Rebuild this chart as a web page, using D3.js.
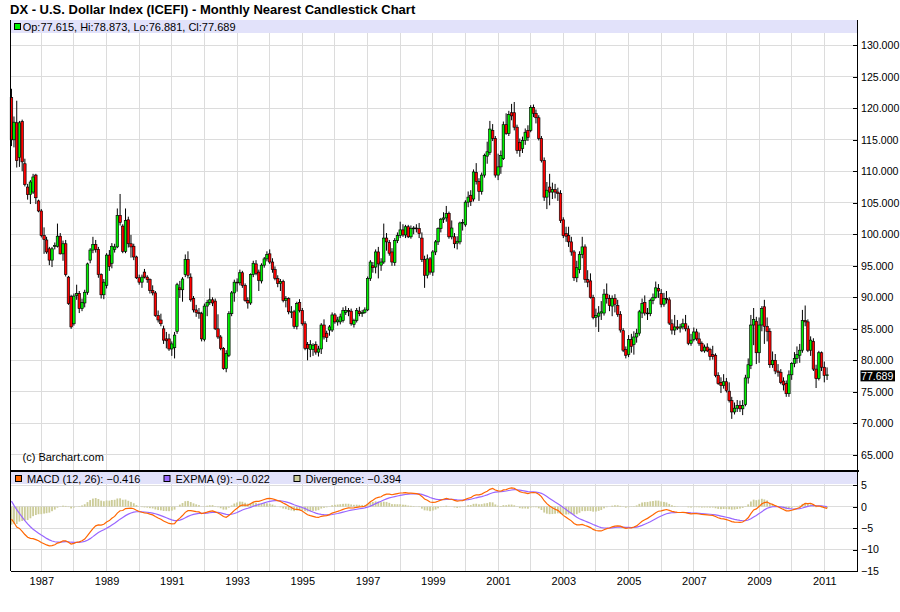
<!DOCTYPE html>
<html>
<head>
<meta charset="utf-8">
<script src="https://cdn.jsdelivr.net/npm/d3@7"></script>
<style>
  body { margin: 0; background: #fff; }
  svg text { font-family: "Liberation Sans", Arial, sans-serif; }
</style>
</head>
<body>
<svg id="chart" width="900" height="612"></svg>
<script>
// monthly bars, first one is Feb 1986, last one Feb 2011
var firstYear = 1986, firstMonth = 1;

var opens = [
  121.7,115.0,117.7,112.2,117.9,111.2,107.5,106.3,106.7,109.4,105.3,            // 1986
  103.7,99.8,99.1,97.7,95.9,98.1,98.1,99.7,96.9,98.5,93.2,90.1,                 // 1987
  85.8,90.3,90.6,88.2,89.1,90.8,95.9,97.5,98.4,97.6,93.6,90.4,                  // 1988
  91.9,96.7,95.4,97.6,98.0,103.0,101.3,97.3,102.3,98.5,98.1,96.4,               // 1989
  93.1,92.4,94.0,93.2,92.8,91.1,90.7,87.1,86.4,85.0,83.4,83.4,                  // 1990
  81.8,82.0,84.6,91.5,91.2,93.6,96.0,93.2,89.8,88.0,87.6,87.4,                  // 1991
  83.3,88.6,89.2,89.6,89.4,85.0,83.7,81.9,78.7,80.8,87.4,90.7,                  // 1992
  92.4,92.3,93.9,91.9,89.5,89.1,93.6,95.3,94.0,92.6,95.1,96.1,                  // 1993
  96.9,95.6,94.4,93.0,92.2,92.5,89.5,89.8,87.7,87.7,85.4,89.2,                  // 1994
  87.9,85.8,82.5,81.7,81.7,82.5,81.3,81.8,85.6,84.3,84.8,84.8,                  // 1995
  87.2,86.1,86.1,86.3,87.6,87.9,87.8,85.7,86.3,87.8,87.4,87.6,                  // 1996
  88.0,93.0,95.0,94.8,97.2,95.1,95.6,99.4,98.7,97.2,95.5,99.0,                  // 1997
  99.8,100.7,99.9,101.2,99.6,100.9,101.0,100.9,99.4,96.0,93.5,96.1,             // 1998
  94.0,97.2,98.8,100.9,102.4,102.6,103.3,99.6,99.6,98.6,98.8,101.8,             // 1999
  101.5,105.1,106.2,105.6,109.8,108.4,106.8,109.4,112.4,113.0,116.5,115.2,      // 2000
  109.4,110.7,112.0,117.4,116.0,119.3,119.3,117.0,114.6,113.6,114.9,116.5,      // 2001
  116.5,120.1,119.2,118.5,115.2,111.7,105.9,107.5,106.7,107.1,106.7,106.5,      // 2002
  102.3,100.1,99.8,98.8,97.2,93.1,94.4,96.8,98.0,92.8,92.6,90.0,                // 2003
  86.8,87.0,87.5,87.5,90.5,89.8,88.6,89.8,88.7,87.3,84.7,81.7,                  // 2004
  80.9,83.3,82.5,83.7,84.3,87.5,89.2,87.5,87.4,89.5,90.0,91.4,                  // 2005
  90.6,88.9,89.8,89.6,85.8,84.8,85.3,85.1,85.3,85.8,85.0,82.7,                  // 2006
  83.3,84.5,83.4,82.7,81.5,82.1,81.7,80.9,80.8,77.6,76.5,76.0,                  // 2007
  76.6,75.1,73.6,71.8,72.4,72.8,72.3,73.0,77.2,79.2,85.6,86.2,                  // 2008
  81.2,85.6,88.5,85.4,84.6,79.3,80.0,78.3,78.1,76.7,76.3,74.7,                  // 2009
  77.7,79.5,80.3,80.8,81.6,86.3,86.1,81.6,83.0,78.6,77.1,81.2,                  // 2010
  78.9,77.615                                                                   // 2011
];

var highs = [
  123.1,118.7,121.2,118.0,118.2,112.0,108.0,108.6,109.6,109.6,105.5,
  104.0,101.1,99.6,98.0,98.0,98.7,101.7,100.2,99.0,99.1,93.4,90.4,
  90.6,92.0,91.0,89.8,91.2,95.5,97.8,99.6,99.1,98.0,93.8,92.9,
  97.0,97.5,98.6,98.5,104.1,106.4,101.6,104.1,102.8,99.9,98.5,96.6,
  93.6,93.6,94.5,93.5,93.0,91.9,91.0,87.9,87.4,85.5,84.5,84.2,
  83.0,84.5,92.3,92.6,93.2,96.8,97.3,93.8,90.2,88.8,88.3,87.7,
  89.0,89.6,91.4,90.0,89.8,87.3,84.0,82.1,81.6,87.8,91.0,92.8,
  93.0,94.4,94.2,92.2,90.0,93.8,95.8,95.9,94.4,95.4,96.4,97.3,
  97.6,96.2,94.9,93.5,92.9,92.8,90.2,90.0,88.6,88.0,89.3,89.7,
  88.3,86.2,82.9,83.2,82.7,83.0,82.3,85.9,86.5,84.7,85.6,87.6,
  87.5,86.9,87.4,88.4,88.6,88.3,88.2,86.6,88.3,88.5,88.0,88.4,
  93.3,95.9,95.6,97.6,98.0,96.2,101.7,100.2,99.1,97.8,99.4,100.3,
  102.0,101.6,101.5,101.5,101.4,101.3,101.6,101.8,100.3,96.6,96.8,96.4,
  97.5,99.1,101.1,102.6,103.5,104.5,103.6,102.2,100.2,99.7,102.0,102.4,
  105.4,106.8,107.0,110.3,111.3,108.9,109.8,112.8,114.7,118.0,117.5,115.6,
  112.8,113.3,117.9,119.2,119.6,120.7,121.0,117.4,115.2,115.5,116.8,117.3,
  120.5,120.6,119.8,118.9,115.6,112.2,108.3,109.6,108.2,108.0,107.4,107.0,
  102.7,101.2,101.2,99.6,97.5,95.8,97.3,99.6,98.4,94.3,93.8,90.4,
  88.2,88.6,89.4,91.3,92.2,90.4,90.3,90.5,89.6,87.8,85.1,82.2,
  84.0,84.2,84.6,85.0,88.0,89.8,90.3,88.3,89.8,90.6,92.5,92.1,
  91.3,90.7,91.0,90.0,86.5,87.2,86.4,85.8,86.6,87.2,85.5,84.2,
  85.2,85.0,84.4,83.0,82.5,82.7,82.0,82.3,81.1,78.1,77.3,77.8,
  77.2,76.5,74.2,73.3,73.7,73.6,73.7,77.7,80.3,87.2,88.3,86.9,
  86.8,88.6,89.6,86.8,85.1,81.4,81.0,79.4,78.6,77.3,76.8,78.4,
  79.7,81.3,82.2,82.6,88.0,88.7,86.5,83.8,83.5,79.3,81.5,81.4,
  79.8,78.873
];

var lows = [
  114.0,113.8,110.6,110.7,110.0,107.6,105.5,104.8,106.4,104.8,103.5,
  99.5,96.9,96.9,95.1,94.8,97.6,97.9,96.8,95.8,93.3,88.8,85.0,
  85.5,89.6,87.5,87.8,88.4,90.4,95.4,97.0,97.1,93.1,89.8,89.7,
  91.4,94.2,94.6,97.1,97.8,101.4,97.0,97.0,97.9,96.3,95.9,92.9,
  92.0,91.5,93.0,92.3,90.6,90.3,86.9,86.0,85.4,82.6,81.9,81.5,
  80.7,80.3,84.2,89.9,89.3,93.2,93.0,89.3,87.6,86.9,86.6,83.0,
  83.0,87.0,88.8,88.6,84.8,83.4,81.6,78.5,78.1,80.5,87.0,89.3,
  90.9,91.9,91.5,89.3,88.2,88.8,93.2,93.5,91.0,92.2,94.7,95.7,
  95.3,93.9,92.7,91.6,91.0,89.2,88.4,87.3,86.7,85.0,84.9,87.6,
  85.5,81.6,80.0,80.5,80.7,80.9,80.6,81.0,83.3,82.9,83.9,84.5,
  85.8,85.5,85.7,86.0,87.2,87.0,85.5,85.2,86.0,87.0,86.9,87.4,
  87.8,92.6,93.9,93.8,93.0,94.2,95.3,97.4,96.6,95.0,95.0,98.6,
  99.4,99.6,99.4,99.4,99.3,100.0,100.3,99.4,95.6,91.5,93.0,93.6,
  93.4,96.7,98.3,100.3,101.8,102.0,99.3,99.2,97.8,97.6,98.4,100.6,
  101.2,104.3,104.5,105.2,107.9,105.3,106.3,109.0,111.2,112.6,114.8,109.0,
  108.6,109.6,111.8,115.8,115.6,118.1,116.5,112.8,112.3,112.9,114.2,114.8,
  116.2,118.6,117.6,114.9,111.4,105.3,104.0,104.6,105.6,105.7,105.3,101.8,
  99.4,98.8,98.0,96.6,92.6,92.4,93.8,96.2,92.3,91.6,89.8,86.5,
  85.3,84.5,86.4,87.1,89.0,87.8,87.0,87.6,86.9,84.4,81.3,80.3,
  80.5,81.2,80.9,82.8,83.9,86.7,87.1,86.4,87.0,88.9,89.8,89.9,
  88.4,88.5,89.0,85.6,84.1,84.0,84.8,84.4,84.9,84.6,82.4,82.3,
  83.0,83.1,82.3,81.3,81.2,81.3,80.0,80.1,77.3,76.1,74.8,75.5,
  74.9,73.3,70.7,71.4,71.8,71.8,71.3,72.7,76.3,78.6,82.4,79.4,
  79.6,84.6,82.6,83.0,78.8,78.8,77.8,77.4,76.2,75.2,74.2,74.2,
  76.9,78.9,79.5,79.6,81.2,85.4,81.3,80.7,78.3,75.6,76.8,78.3,
  76.5,76.881
];

var closes = [
  115.0,117.8,111.7,117.7,111.5,107.9,106.3,108.3,109.1,105.8,103.7,
  99.8,99.2,97.2,95.9,97.7,98.2,99.7,96.9,98.5,93.6,89.0,85.3,
  90.2,90.6,88.2,89.2,90.8,95.3,97.5,98.4,97.6,93.6,90.4,92.4,
  96.7,94.9,98.1,98.0,103.0,101.9,97.3,102.2,98.5,98.0,96.4,93.1,
  92.4,93.2,93.2,92.8,91.1,90.7,87.1,86.4,85.8,83.2,83.1,81.8,
  82.6,84.0,92.0,91.2,92.9,96.0,93.5,89.6,88.0,87.6,87.4,83.4,
  88.6,89.2,89.6,89.1,85.0,83.7,81.9,78.7,81.1,87.4,90.7,92.4,
  92.3,93.9,91.9,89.5,89.1,93.6,95.4,93.8,92.7,95.1,96.1,96.8,
  95.6,94.4,93.0,92.2,92.5,89.5,89.8,87.7,87.7,85.4,89.0,87.9,
  85.8,81.9,81.9,82.5,82.4,81.3,81.8,85.6,83.7,83.6,85.3,87.2,
  86.1,86.4,86.9,87.9,87.9,87.8,85.8,86.3,87.9,87.4,87.6,88.0,
  93.0,95.6,94.7,97.2,95.3,95.6,99.4,98.8,97.0,95.6,99.0,99.8,
  100.7,99.9,101.2,99.6,100.9,101.0,100.9,100.1,96.0,93.5,96.1,94.0,
  97.2,98.8,100.9,102.4,102.6,103.3,99.6,101.0,98.5,98.9,101.8,101.9,
  105.1,105.9,105.2,109.9,108.4,106.8,109.4,112.5,113.1,116.7,115.2,109.4,
  110.7,112.5,117.4,116.0,119.0,118.8,117.0,113.3,113.3,114.9,116.2,115.4,
  120.1,119.2,118.5,115.2,111.7,105.9,107.0,106.7,107.1,106.7,106.5,102.2,
  99.8,99.7,98.8,97.2,93.1,94.7,96.8,98.0,92.8,92.4,90.0,86.8,
  87.1,87.5,87.7,90.5,89.8,88.7,89.8,88.9,87.3,84.8,81.6,80.8,
  83.3,82.2,83.7,84.3,87.7,89.0,87.5,87.4,89.5,90.0,91.5,91.0,
  88.9,89.8,89.6,85.9,84.8,85.3,85.1,85.3,85.8,85.0,82.7,83.2,
  84.5,83.4,82.7,81.5,82.1,81.5,80.6,80.6,77.6,76.3,76.0,76.6,
  75.2,73.6,71.8,72.4,72.8,72.3,72.8,77.2,79.3,85.6,86.5,81.2,
  85.6,88.2,85.4,84.6,79.3,80.0,78.3,78.1,76.5,76.1,74.7,77.7,
  79.5,80.3,80.9,81.6,86.3,86.1,81.6,83.2,78.6,77.1,81.2,78.9,
  77.6,77.689
];

// axis ticks
var priceTicks = [65, 70, 75, 80, 85, 90, 95, 100, 105, 110, 115, 120, 125, 130];
var macdTicks = [5, 0, -5, -10, -15];
var macdGrid = [5, 0, -5, -10];
var yearGrid = [1987,1988,1989,1990,1991,1992,1993,1994,1995,1996,1997,1998,1999,
                2000,2001,2002,2003,2004,2005,2006,2007,2008,2009,2010,2011];
var yearLabels = [1987,1989,1991,1993,1995,1997,1999,2001,2003,2005,2007,2009,2011];

// header texts
var lastBarText = "Op:77.615, Hi:78.873, Lo:76.881, Cl:77.689";
var macdTexts = ["MACD (12, 26): \u22120.416", "EXPMA (9): \u22120.022", "Divergence: \u22120.394"];

// MACD state at the first bar (estimated from the lower panel)
var macdSeed = {ema12: 130.5, ema26: 133.4, signal: 1.3};

var svg = d3.select("svg#chart");

var left = 10.5, right = 857.5,
    priceTop = 19.5, priceBottom = 471,
    macdBottom = 571;

var up = "#00f000", down = "#ff0000";

var x = d3.scaleTime()
          .domain([new Date(1987, 0, 1), new Date(2011, 0, 1)])
          .range([41.3, 824.3]);
var y = d3.scaleLinear().domain([65, 130]).range([454.8, 45.3]);
var ym = d3.scaleLinear().domain([-15, 5]).range([571, 485.2]);

var bars = closes.map(function(c, i) {
    return {date: new Date(firstYear, firstMonth + i, 1),
            o: opens[i], h: highs[i], l: lows[i], c: c};
});

// macd
var k12 = 2 / 13, k26 = 2 / 27, k9 = 2 / 10;
var e12 = macdSeed.ema12, e26 = macdSeed.ema26, sig = macdSeed.signal;
bars.forEach(function(d, i) {
    if (i > 0) {
        e12 += k12 * (d.c - e12);
        e26 += k26 * (d.c - e26);
    }
    d.macd = e12 - e26;
    if (i > 0) sig += k9 * (d.macd - sig);
    d.signal = sig;
    d.div = d.macd - d.signal;
});

// grid
var grid = svg.append("g").attr("stroke", "#dcdcdc").attr("stroke-width", 1)
              .attr("shape-rendering", "crispEdges");

grid.selectAll("line.vx")
    .data(yearGrid)
    .enter().append("line")
    .attr("x1", function(d) { return x(new Date(d, 0, 1)); })
    .attr("x2", function(d) { return x(new Date(d, 0, 1)); })
    .attr("y1", priceTop)
    .attr("y2", macdBottom);

grid.selectAll("line.hp")
    .data(priceTicks)
    .enter().append("line")
    .attr("x1", left).attr("x2", right)
    .attr("y1", function(d) { return y(d); })
    .attr("y2", function(d) { return y(d); });

grid.selectAll("line.hm")
    .data(macdGrid)
    .enter().append("line")
    .attr("x1", left).attr("x2", right)
    .attr("y1", function(d) { return ym(d); })
    .attr("y2", function(d) { return ym(d); });

// candles
var bw = 2.5;
var candles = svg.append("g");

candles.selectAll("line")
    .data(bars)
    .enter().append("line")
    .attr("x1", function(d) { return x(d.date); })
    .attr("x2", function(d) { return x(d.date); })
    .attr("y1", function(d) { return y(d.h); })
    .attr("y2", function(d) { return y(d.l); })
    .attr("stroke", "#000")
    .attr("stroke-width", 1);

candles.selectAll("rect")
    .data(bars)
    .enter().append("rect")
    .attr("x", function(d) { return x(d.date) - bw / 2; })
    .attr("y", function(d) { return y(Math.max(d.o, d.c)); })
    .attr("width", bw)
    .attr("height", function(d) { return Math.max(0.8, Math.abs(y(d.o) - y(d.c))); })
    .attr("fill", function(d) { return d.c >= d.o ? up : down; })
    .attr("stroke", "#000")
    .attr("stroke-width", 0.65);

// divergence bars
svg.append("g").selectAll("rect")
    .data(bars)
    .enter().append("rect")
    .attr("x", function(d) { return x(d.date) - 0.9; })
    .attr("y", function(d) { return Math.min(ym(0), ym(d.div)); })
    .attr("width", 1.8)
    .attr("height", function(d) { return Math.abs(ym(d.div) - ym(0)); })
    .attr("fill", "#cccc99");

var sigLine = d3.line()
    .x(function(d) { return x(d.date); })
    .y(function(d) { return ym(d.signal); });
var macdLine = d3.line()
    .x(function(d) { return x(d.date); })
    .y(function(d) { return ym(d.macd); });

svg.append("path").datum(bars)
    .attr("d", sigLine)
    .attr("fill", "none")
    .attr("stroke", "#9966ff")
    .attr("stroke-width", 1.2);

svg.append("path").datum(bars)
    .attr("d", macdLine)
    .attr("fill", "none")
    .attr("stroke", "#ff6600")
    .attr("stroke-width", 1.2);

// header bands
svg.append("rect").attr("x", left).attr("y", priceTop + 0.5)
   .attr("width", right - left).attr("height", 13).attr("fill", "#e2e2fa");
svg.append("rect").attr("x", left).attr("y", priceBottom)
   .attr("width", right - left).attr("height", 13).attr("fill", "#e2e2fa");

// frame
var frame = svg.append("g").attr("stroke", "#000").attr("shape-rendering", "crispEdges");
frame.append("line").attr("x1", left).attr("x2", left).attr("y1", priceTop).attr("y2", macdBottom);
frame.append("line").attr("x1", right).attr("x2", right).attr("y1", priceTop).attr("y2", macdBottom);
frame.append("line").attr("x1", left).attr("x2", right).attr("y1", macdBottom).attr("y2", macdBottom);
frame.append("line").attr("x1", left).attr("x2", right + 1).attr("y1", priceBottom).attr("y2", priceBottom)
     .attr("stroke-width", 2.5);

// axes, ticks point into the plot
var priceAxis = d3.axisRight(y).tickValues(priceTicks).tickFormat(d3.format(".3f"))
                  .tickSize(-5).tickPadding(3.5);
var gp = svg.append("g").attr("transform", "translate(" + right + ",0)").call(priceAxis);

var macdAxis = d3.axisRight(ym).tickValues(macdTicks).tickFormat(d3.format("d"))
                 .tickSize(-5).tickPadding(3.5);
var gm = svg.append("g").attr("transform", "translate(" + right + ",0)").call(macdAxis);

var timeAxis = d3.axisBottom(x)
                 .tickValues(yearLabels.map(function(d) { return new Date(d, 0, 1); }))
                 .tickFormat(d3.timeFormat("%Y"))
                 .tickSize(0).tickPadding(6.5);
var gt = svg.append("g").attr("transform", "translate(0," + macdBottom + ")").call(timeAxis);

[gp, gm, gt].forEach(function(g) {
    g.select(".domain").remove();
    g.selectAll("text").attr("font-size", 11).attr("fill", "#000")
     .attr("font-family", "Liberation Sans, Arial, sans-serif");
    g.selectAll(".tick line").attr("stroke", "#000").attr("shape-rendering", "crispEdges");
});
gp.selectAll("text").attr("font-size", 10.6);
gm.selectAll("text").attr("font-size", 10.6);

// last price tag
var last = bars[bars.length - 1];
svg.append("rect")
   .attr("x", right + 3).attr("y", y(last.c) - 4.5)
   .attr("width", 34.5).attr("height", 11).attr("fill", "#000");
svg.append("text")
   .attr("x", right + 3.5).attr("y", y(last.c) + 5)
   .attr("font-size", 10.6).attr("fill", "#fff")
   .text(d3.format(".3f")(last.c));

// title
svg.append("text")
   .attr("x", 10).attr("y", 14)
   .attr("font-size", 13).attr("font-weight", "bold")
   .text("DX - U.S. Dollar Index (ICEFI) - Monthly Nearest Candlestick Chart");

// price legend
svg.append("rect").attr("x", 14.5).attr("y", 23.5).attr("width", 6).attr("height", 6)
   .attr("fill", last.c >= last.o ? up : down).attr("stroke", "#000");
svg.append("text").attr("x", 22.7).attr("y", 31).attr("font-size", 11).text(lastBarText);

svg.append("text").attr("x", 22.5).attr("y", 460.5).attr("font-size", 11).text("(c) Barchart.com");

// macd legend
var legendX = [15.5, 164, 294];
var legendCol = ["#ff6600", "#9966ff", "#cccc99"];
macdTexts.forEach(function(t, i) {
    svg.append("rect").attr("x", legendX[i]).attr("y", 475.5).attr("width", 6).attr("height", 6)
       .attr("fill", legendCol[i]).attr("stroke", "#000");
    svg.append("text").attr("x", legendX[i] + 11.5).attr("y", 483).attr("font-size", 11).text(t);
});
</script>
</body>
</html>
